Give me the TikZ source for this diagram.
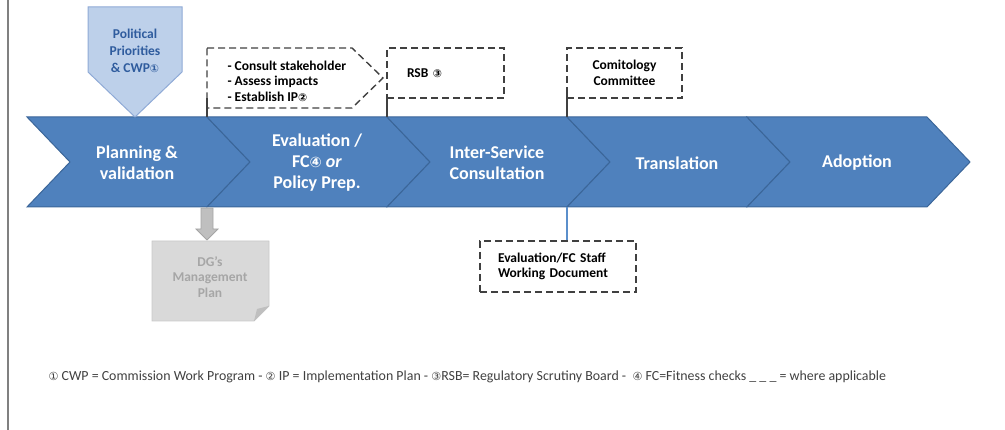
\documentclass[tikz,border=0pt]{standalone}
\usepackage{fontspec}
\setmainfont{Carlito}
\newfontfamily\circfont{DejaVu Sans}[Scale=0.8]
\usepackage{xcolor}
\usepackage{tikz}
\usetikzlibrary{calc, positioning}

\definecolor{chevblue}{HTML}{4F81BD}
\definecolor{chevline}{HTML}{3B6699}
\definecolor{polfill}{HTML}{BDD0EA}
\definecolor{polline}{HTML}{8FAAD6}
\definecolor{poltext}{HTML}{2F5C9E}
\definecolor{dgfill}{HTML}{D9D9D9}
\definecolor{dgline}{HTML}{C8C8C8}
\definecolor{dgtext}{HTML}{A6A6A6}
\definecolor{dgfold}{HTML}{BFBFBF}
\definecolor{arrowgray}{HTML}{BFBFBF}
\definecolor{arrowline}{HTML}{A5A5A5}
\definecolor{dashline}{HTML}{404040}
\definecolor{swdline}{HTML}{5B8FCB}

\newcommand{\cn}[1]{{\circfont #1}}

\tikzset{
    chevron/.style={fill=chevblue, draw=chevline, line width=1pt},
    chevtext/.style={text=white, font=\fontsize{18}{21}\selectfont\bfseries, align=center},
    boxtext/.style={font=\fontsize{13.5}{15.5}\selectfont\bfseries},
    dashbox/.style={draw=dashline, dash pattern=on 7pt off 4pt, line width=1.4pt},
    link/.style={draw=dashline, line width=1.2pt},
}

\begin{document}
\begin{tikzpicture}[x=1pt, y=-1pt, >=latex]
                \useasboundingbox (0,0) rectangle (1005,430);
                % 1. Khung bên trái
                \draw[gray, line width=2pt] (8,0) -- (8,430);

                % 2. Các chevron
                \foreach \i in {1,...,5} {
                    \pgfmathsetmacro{\xa}{27+180*(\i-1)}
                    \draw[chevron] (\xa,117) -- ++(180,0) -- ++(43,45) -- ++(-43,45)
                        -- ++(-180,0) -- ++(43,-45) -- cycle;
                    \coordinate (top-\i) at (\xa,117);
                    \coordinate (bot-\i) at (\xa,207);
                }
                \node[chevtext] (plan) at (137,163) {Planning \&\\validation};
                \node[chevtext] (eval) at (317,163) {Evaluation /\\FC\cn{④} \textit{or}\\Policy Prep.};
                \node[chevtext] (isc) at (497,163) {Inter-Service\\Consultation};
                \node[chevtext] (transl) at (677,163) {Translation};
                \node[chevtext] (adopt) at (857,163) {Adoption};

                % 3. Political Priorities
                \draw[fill=polfill, draw=polline, line width=1pt]
                    (88,7) -- (182,7) -- (182,72) -- (top-1 -| 135,0) -- (88,72) -- cycle;
                \node[boxtext, text=poltext, align=center, font=\fontsize{13.5}{17}\selectfont\bfseries]
                    (pol) at (135,51) {Political\\Priorities\\\& CWP\cn{①}};

                % 4. Các hộp nét đứt phía trên
                \draw[dashbox] (207,48) -- (352,48) -- (383,78) -- (352,108)
                    -- (207,108) coordinate (cs-sw) -- cycle;
                \node[boxtext, align=left, anchor=west] (consult) at (224,81)
                    {- Consult stakeholder\\- Assess impacts\\- Establish IP\cn{②}};
                \draw[link] (top-2) -- ([yshift=10pt]cs-sw);

                \node[dashbox, boxtext, minimum width=117pt, minimum height=50pt,
                    text width=77pt, inner xsep=20pt, align=left] (rsb) at (445.5,73) {RSB \cn{③}};
                \draw[link] (top-3) -- ([yshift=4pt]top-3 |- rsb.south);

                \node[dashbox, boxtext, minimum width=115pt, minimum height=50pt, align=center]
                    (comit) at (624.5,73) {Comitology\\Committee};
                \draw[link] (top-4) -- ([yshift=6pt]top-4 |- comit.south);

                % 5. Hộp phía dưới
                \node[dashbox, boxtext, minimum width=156pt, minimum height=51pt,
                    text width=120pt, inner xsep=18pt, align=left] (swd) at (558,266.5)
                    {Evaluation/FC Staff\\Working Document};
                \draw[swdline, line width=1.5pt] (bot-4) -- (bot-4 |- swd.north);

                % 6. DG's Management Plan
                \draw[fill=arrowgray, draw=arrowline, line width=0.8pt]
                    ($(bot-2)+(-6,1)$) -- ($(bot-2)+(6,1)$) -- ($(bot-2)+(6,22)$) -- ($(bot-2)+(11,22)$)
                    -- ($(bot-2)+(0,33)$) -- ($(bot-2)+(-11,22)$) -- ($(bot-2)+(-6,22)$) -- cycle;
                \draw[fill=dgfill, draw=dgline, line width=0.8pt]
                    (152,241) -- (269,241) -- (269,306) -- (254,321) -- (152,321) -- cycle;
                \fill[dgfold] (269,306) -- (254,321) -- (257,309) -- cycle;
                \node[boxtext, text=dgtext, align=center] (dg) at (210,277) {DG's\\Management\\Plan};

                % 7. Chú thích
                \node[anchor=west, text=dashline, font=\fontsize{13.9}{16}\selectfont] (notes) at (45,377)
                    {\cn{①} CWP = Commission Work Program - \cn{②} IP = Implementation Plan - \cn{③}RSB= Regulatory Scrutiny Board -\ \ \cn{④} FC=Fitness checks \_ \_ \_ = where applicable};
            \end{tikzpicture}
\end{document}
